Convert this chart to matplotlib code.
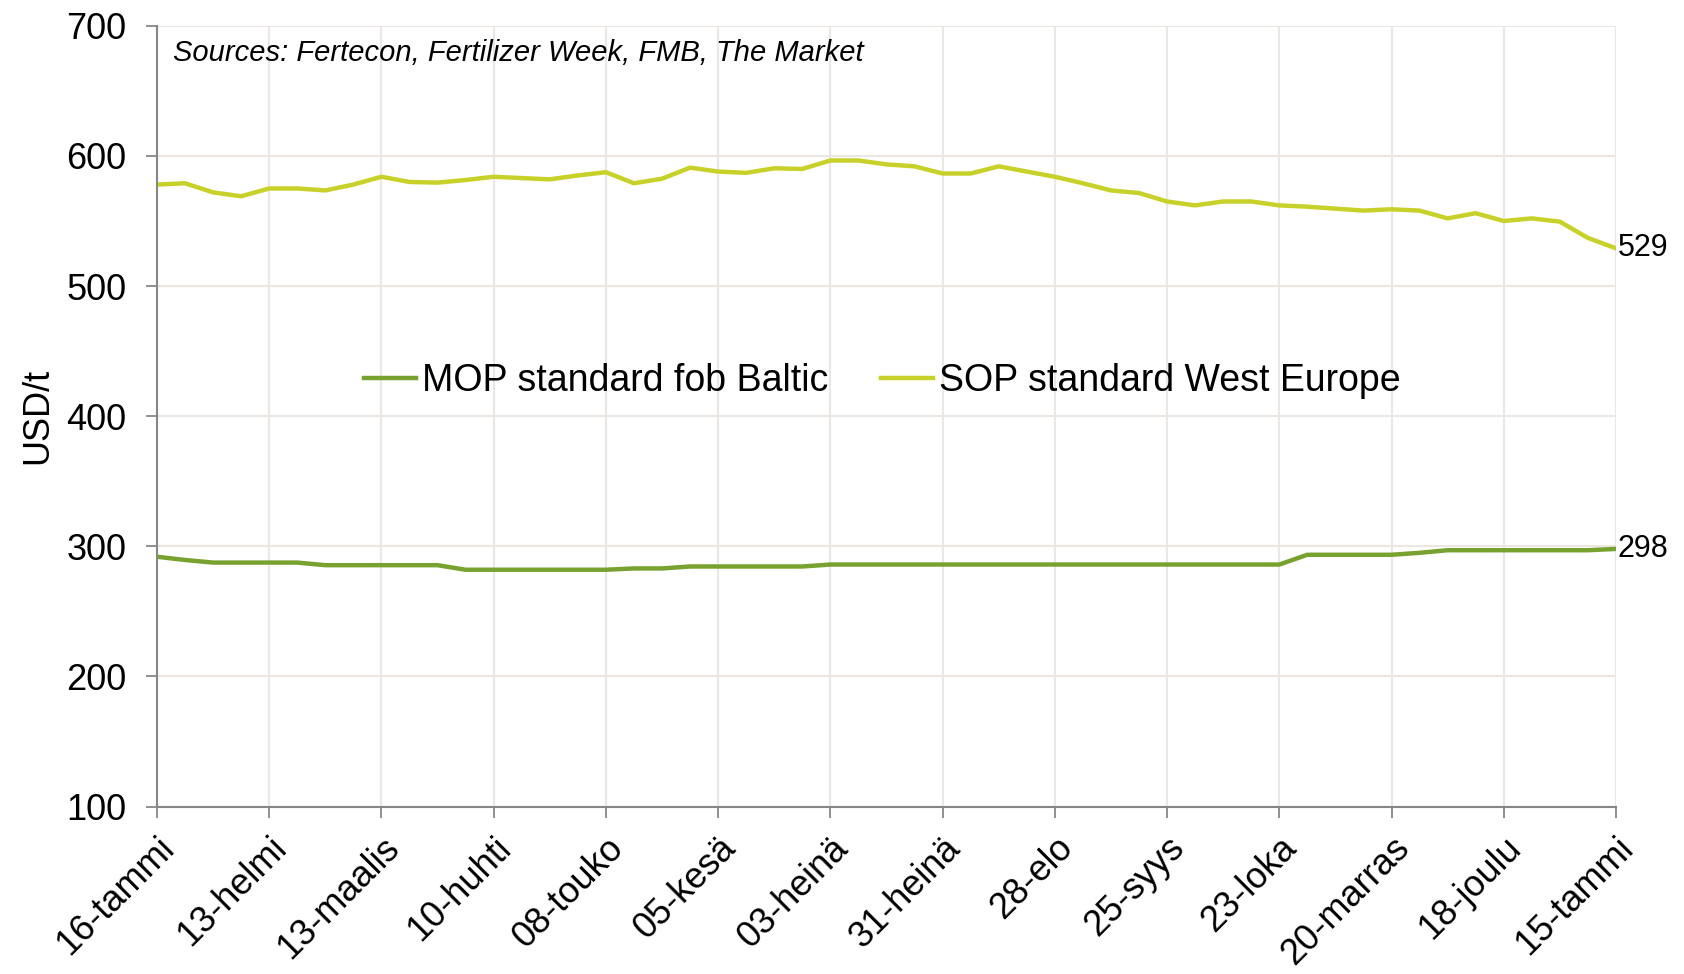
import numpy as np
import matplotlib.pyplot as plt

plt.rcParams["font.family"] = ["Liberation Sans", "DejaVu Sans"]

COLOR = {
    "mop": "#78A22F",
    "sop": "#C8D12A",
    "grid": "#ECE7E3",
    "axis": "#878787",
}

# weekly observations, 16-tammi .. 15-tammi (53 weeks)
weeks = np.arange(53)

tick_pos = list(range(0, 53, 4))
tick_labels = [
    "16-tammi", "13-helmi", "13-maalis", "10-huhti", "08-touko", "05-kesä",
    "03-heinä", "31-heinä", "28-elo", "25-syys", "23-loka", "20-marras",
    "18-joulu", "15-tammi",
]

mop = [
    292, 289.5, 287.5, 287.5, 287.5, 287.5, 285.5, 285.5, 285.5, 285.5,
    285.5, 282, 282, 282, 282, 282, 282, 283, 283, 284.5,
    284.5, 284.5, 284.5, 284.5, 286, 286, 286, 286, 286, 286,
    286, 286, 286, 286, 286, 286, 286, 286, 286, 286,
    286, 293.5, 293.5, 293.5, 293.5, 295, 297, 297, 297, 297,
    297, 297, 298,
]

sop = [
    578, 579, 572, 569, 575, 575, 573.5, 578, 584, 580,
    579.5, 581.5, 584, 583, 582, 585, 587.5, 579, 582.5, 591,
    588, 587, 590.5, 590, 596.5, 596.5, 593.5, 592, 586.5, 586.5,
    592, 588, 584, 579, 573.5, 571.5, 565, 562, 565, 565,
    562, 561, 559.5, 558, 559, 558, 552, 556, 550, 552,
    549.5, 537, 529,
]

fig, ax = plt.subplots(figsize=(16.84, 9.74), dpi=100)
fig.subplots_adjust(left=0.0932, right=0.9596, top=0.9735, bottom=0.1719)

ax.plot(weeks, mop, color=COLOR["mop"], lw=3.2, label="MOP standard fob Baltic")
ax.plot(weeks, sop, color=COLOR["sop"], lw=3.2, label="SOP standard West Europe")

# end labels
ax.text(weeks[-1] + 0.05, mop[-1], f"{mop[-1]:.0f}", fontsize=22, va="center", ha="left")
ax.text(weeks[-1] + 0.05, sop[-1], f"{sop[-1]:.0f}", fontsize=22, va="center", ha="left")

ax.set_xlim(0, 52)
ax.set_ylim(100, 700)
ax.set_yticks(range(100, 701, 100))
ax.set_xticks(tick_pos)
ax.set_xticklabels(tick_labels, rotation=45, ha="right", rotation_mode="anchor")

ax.grid(True, color=COLOR["grid"], lw=1.5)
ax.set_axisbelow(True)

ax.spines["top"].set_visible(False)
ax.spines["right"].set_visible(False)
for side in ("left", "bottom"):
    ax.spines[side].set_color(COLOR["axis"])
    ax.spines[side].set_linewidth(1.5)

ax.tick_params(axis="x", length=8, width=1.3, color=COLOR["axis"], labelsize=26, pad=9)
ax.tick_params(axis="y", length=8, width=1.3, color=COLOR["axis"], labelsize=26, pad=14)

ax.set_ylabel("USD/t", fontsize=26, labelpad=8)

ax.text(0.011, 0.965, "Sources: Fertecon, Fertilizer Week, FMB, The Market",
        transform=ax.transAxes, fontsize=21, style="italic", va="center", ha="left")

ax.legend(loc="center", bbox_to_anchor=(0.497, 0.545), ncol=2, frameon=False,
          fontsize=27, handlelength=1.4, handletextpad=0.15, columnspacing=1.4)

fig.savefig("out.png", dpi=100)
